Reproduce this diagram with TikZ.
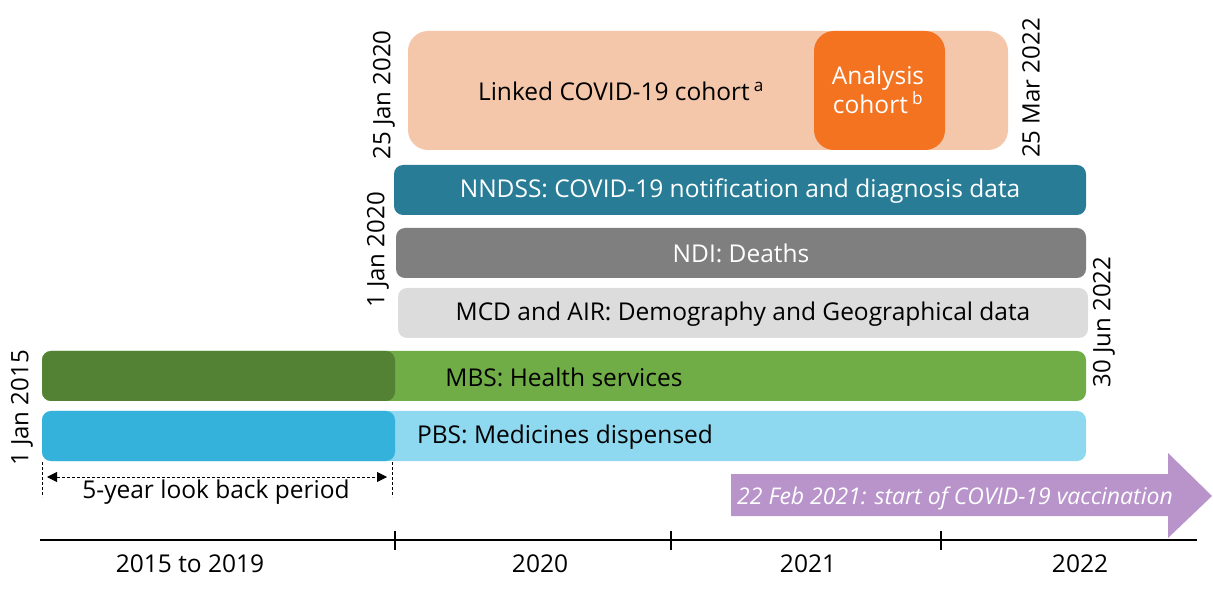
\documentclass[tikz,border=0pt]{standalone}
\usepackage{fontspec}
\setmainfont{Open Sans}
\usetikzlibrary{arrows.meta}
\definecolor{peach}{HTML}{F5C7AA}
\definecolor{orangeb}{HTML}{F37321}
\definecolor{tealb}{HTML}{287C96}
\definecolor{greyb}{HTML}{7F7F7F}
\definecolor{lgreyb}{HTML}{DCDCDC}
\definecolor{greenl}{HTML}{70AD47}
\definecolor{greend}{HTML}{548235}
\definecolor{bluel}{HTML}{8ED8F0}
\definecolor{blued}{HTML}{35B2DC}
\definecolor{purp}{HTML}{B894CB}
\tikzset{
  bar/.style={rounded corners=9pt, draw=none},
  big/.style={rounded corners=20pt, draw=none},
  txt/.style={font=\fontsize{24.5}{29}\selectfont, inner sep=0pt},
  datelbl/.style={font=\fontsize{24}{28}\selectfont, rotate=90, inner sep=0pt},
  yr/.style={font=\fontsize{24.5}{29}\selectfont, inner sep=0pt},
}
\begin{document}
\begin{tikzpicture}[x=1pt,y=-1pt]
\useasboundingbox (0,0) rectangle (1213,593);
% cohort boxes
\fill[peach,big] (408,31) rectangle (1008,150);
\node[txt] (linked) at (621,91) {Linked COVID-19 cohort\,\textsuperscript{a}};
\fill[orangeb,big] (814,31) rectangle (945,150);
\node[txt, text=white, align=center, font=\fontsize{24.5}{29}\selectfont] (analysis) at (878,90) {Analysis\\cohort\,\textsuperscript{b}};
\node[datelbl] (d1) at (384,95) {25 Jan 2020};
\node[datelbl] (d2) at (1031,88) {25 Mar 2022};
% data bars
\fill[tealb,bar] (394,165) rectangle (1086,215);
\node[txt,text=white] (nndss) at (740,191) {NNDSS: COVID-19 notification and diagnosis data};
\fill[greyb,bar] (396,228) rectangle (1086,278);
\node[txt,text=white] (ndi) at (741,253) {NDI: Deaths};
\fill[lgreyb,bar] (398,288) rectangle (1088,338);
\node[txt] (mcd) at (743,314) {MCD and AIR: Demography and Geographical data};
\node[datelbl] (d3) at (378,250) {1 Jan 2020};
\fill[greenl,bar] (42,351) rectangle (1086,401);
\fill[greend,bar] (42,351) rectangle (395,401);
\node[txt] (mbs) at (564,377) {MBS: Health services};
\fill[bluel,bar] (42,411) rectangle (1086,461);
\fill[blued,bar] (42,411) rectangle (395,461);
\node[txt] (pbs) at (565,437) {PBS: Medicines dispensed};
\node[datelbl] (d4) at (22,408) {1 Jan 2015};
\node[datelbl] (d5) at (1104,322) {30 Jun 2022};
% look back
\coordinate (lb1) at (42,462);
\coordinate (lb1e) at (42,497);
\coordinate (lb2) at (392,462);
\coordinate (lb2e) at (392,497);
\draw[densely dashed, line width=0.6pt] (lb1) -- (lb1e);
\draw[densely dashed, line width=0.6pt] (lb2) -- (lb2e);
\coordinate (la) at (47,477);
\coordinate (lb) at (387,477);
\draw[densely dashed, line width=0.8pt, {Triangle[length=10pt,width=10pt]}-{Triangle[length=10pt,width=10pt]}] (la) -- (lb);
\node[txt] (lookback) at (216,492) {5-year look back period};
% vaccination arrow
\fill[purp] (731,474) -- (1168,474) -- (1168,453) -- (1212,496) -- (1168,538) -- (1168,516) -- (731,516) -- cycle;
\node[txt, text=white, font=\fontsize{23}{27}\selectfont\itshape] (vacc) at (955,498) {22 Feb 2021: start of COVID-19 vaccination};
% axis
\coordinate (ax1) at (40,540);
\coordinate (ax2) at (1197,540);
\draw[line width=1.2pt] (ax1) -- (ax2);
\foreach \x/\n in {395/t1,671/t2,941/t3} {
  \coordinate (\n a) at (\x,531);
  \coordinate (\n b) at (\x,550);
  \draw[line width=1.6pt] (\n a) -- (\n b);
}
\node[yr] (y1) at (190,564) {2015 to 2019};
\node[yr] (y2) at (540,564) {2020};
\node[yr] (y3) at (808,564) {2021};
\node[yr] (y4) at (1080,564) {2022};
\end{tikzpicture}
\end{document}
